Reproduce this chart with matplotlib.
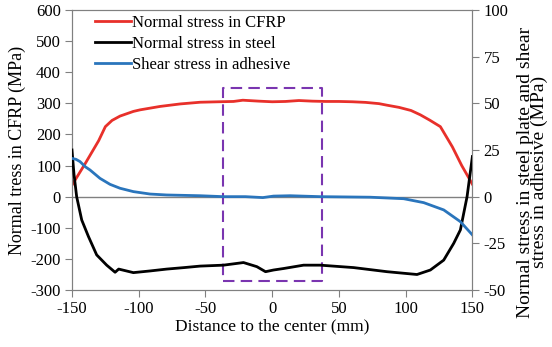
import matplotlib.pyplot as plt
import numpy as np

# distance to the center (mm)
x_cfrp = [-150, -140, -130, -125, -120, -114, -104, -99, -84, -69, -54, -40, -29, -22, -10, 0, 10, 20, 30, 40,
          50, 60, 70, 80, 86, 95, 104, 111, 118, 126, 135, 142, 150]
cfrp = [37, 107, 180, 225, 245, 259, 274, 279, 290, 298, 303.5, 305, 306, 310, 307, 305, 306, 309, 307, 306,
        306, 305, 303, 299, 294, 287, 277, 263, 246, 225, 160, 100, 40]

x_steel = [-150, -148.5, -146.5, -142.7, -137.7, -131.5, -124, -117.7, -115, -104, -91.5, -79, -66, -54,
           -36.5, -21.5, -11.5, -5, 1, 8.5, 23.5, 36, 61, 86, 108.5, 118.5, 128.5, 136, 141, 146, 150]
steel = [25, 12, 0, -12.5, -21.3, -31.2, -36.7, -40.5, -38.8, -40.7, -39.8, -38.8, -38, -37.2,
         -36.7, -35.3, -37.5, -40.2, -39.3, -38.5, -36.7, -36.7, -38, -40.2, -41.7, -39.3, -34, -25, -17.8, 0, 21.5]

x_shear = [-150, -147, -144, -140, -136.5, -129, -121.5, -114, -104, -91.5, -79, -54, -36.5, -20, -7, 1, 13.5,
           36, 73.5, 98.5, 113.5, 128.5, 141, 150]
shear = [20.5, 20, 18.8, 16, 14.3, 9.8, 6.6, 4.5, 2.7, 1.4, 0.9, 0.5, 0, 0, -0.5, 0.3, 0.5,
         0, -0.3, -1.1, -3.2, -7.1, -13.4, -20.5]

box_x = [-36.5, 37.5]
box_y = [-272, 348]

plt.rcParams['font.family'] = ['Liberation Serif', 'DejaVu Serif']
plt.rcParams['axes.unicode_minus'] = False

fig = plt.figure(figsize=(5.52, 3.47), dpi=100)
ax = fig.add_axes([0.1304, 0.1643, 0.7254, 0.8069])
ax2 = ax.twinx()

ax.axhline(0, color='#808080', lw=1.0, zorder=1)
l1, = ax.plot(x_cfrp, cfrp, color='#E8302A', lw=2.0, label='Normal stress in CFRP', zorder=3)
l2, = ax2.plot(x_steel, steel, color='black', lw=2.0, label='Normal stress in steel', zorder=3)
l3, = ax2.plot(x_shear, shear, color='#2A75BC', lw=2.0, label='Shear stress in adhesive', zorder=3)

ax.plot([box_x[0], box_x[1], box_x[1], box_x[0], box_x[0]],
        [box_y[0], box_y[0], box_y[1], box_y[1], box_y[0]],
        color='#7A35B0', lw=1.5, ls=(0, (5.5, 3)), zorder=4)

ax.set_xlim(-150, 150)
ax.set_ylim(-300, 600)
ax2.set_ylim(-50, 100)
ax.set_xticks(np.arange(-150, 151, 50))
ax.set_yticks(np.arange(-300, 601, 100))
ax2.set_yticks(np.arange(-50, 101, 25))

for a in (ax, ax2):
    for s in a.spines.values():
        s.set_color('#808080')
    a.tick_params(direction='out', length=5, color='#808080', labelsize=12, pad=3)

ax.set_xlabel('Distance to the center (mm)', fontsize=12.5, labelpad=1)
ax.set_ylabel('Normal tress in CFRP (MPa)', fontsize=13, labelpad=3)
ax2.set_ylabel('Normal stress in steel plate and shear\nstress in adhesive (MPa)', fontsize=14,
               labelpad=6, linespacing=0.78)
ax2.yaxis.label.set_y(0.42)

ax.legend(handles=[l1, l2, l3], loc='upper left', bbox_to_anchor=(0.057, 0.983), frameon=False,
          fontsize=12, handlelength=2.15, handletextpad=0.1, labelspacing=0.3,
          borderpad=0, borderaxespad=0)

fig.savefig('out.png', dpi=100)
